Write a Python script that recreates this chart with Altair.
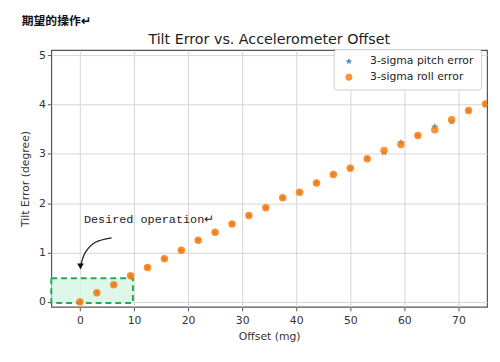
import altair as alt
import pandas as pd

offset = [0, 3.125, 6.25, 9.375, 12.5, 15.625, 18.75, 21.875, 25, 28.125, 31.25, 34.375,
          37.5, 40.625, 43.75, 46.875, 50, 53.125, 56.25, 59.375, 62.5, 65.625, 68.75, 71.875, 75]
roll = [0.0, 0.185, 0.35, 0.53, 0.70, 0.875, 1.05, 1.25, 1.41, 1.58, 1.75, 1.91, 2.11, 2.22,
        2.41, 2.58, 2.71, 2.90, 3.07, 3.19, 3.37, 3.49, 3.69, 3.88, 4.01]
pitch = [0.0, 0.185, 0.35, 0.53, 0.70, 0.875, 1.05, 1.25, 1.41, 1.58, 1.75, 1.91, 2.11, 2.22,
         2.41, 2.58, 2.71, 2.90, 3.03, 3.23, 3.37, 3.55, 3.65, 3.88, 4.01]
series_names = ["3-sigma pitch error", "3-sigma roll error"]
series_colors = ["#1f77b4", "#ff7f0e"]
STAR = ("M0,-1L0.235,-0.324L0.951,-0.309L0.38,0.124L0.588,0.809L0,0.4"
        "L-0.588,0.809L-0.38,0.124L-0.951,-0.309L-0.235,-0.324Z")
series_shapes = [STAR, "circle"]

x_ticks = [0, 10, 20, 30, 40, 50, 60, 70]
y_ticks = [0, 1, 2, 3, 4, 5]
x_domain = [-5.3, 75.3]
y_domain = [-0.1, 5.1]

box_x = [-5.3, 9.8]
box_y = [-0.02, 0.48]
arrow_x = [5.85, 2.85, 1.03, 0.24, 0.1]
arrow_y = [1.30, 1.21, 1.01, 0.78, 0.68]
arrow_tip = [0.1, 0.72]
note_text = "Desired operation\u21b5"
note_pos = [0.73, 1.67]
header_text = "期望的操作\u21b5"
title_text = "Tilt Error vs. Accelerometer Offset"

rows = []
for s, vals in zip(series_names, [pitch, roll]):
    for o, v in zip(offset, vals):
        rows.append({"offset": o, "err": v, "series": s})
df = pd.DataFrame(rows)

xs = alt.Scale(domain=x_domain, nice=False, zero=False)
ys = alt.Scale(domain=y_domain, nice=False, zero=False)
xax = alt.Axis(values=x_ticks, title="Offset (mg)", grid=True)
yax = alt.Axis(values=y_ticks, title="Tilt Error (degree)", grid=True)

box = alt.Chart(pd.DataFrame({"x": [box_x[0]], "x2": [box_x[1]], "y": [box_y[0]], "y2": [box_y[1]]})).mark_rect(
    fill="#d4f5e2", fillOpacity=0.8, stroke="#22aa55", strokeWidth=2, strokeDash=[6, 4]
).encode(
    x=alt.X("x:Q", scale=xs, axis=xax),
    x2="x2:Q",
    y=alt.Y("y:Q", scale=ys, axis=yax),
    y2="y2:Q",
)

pts = alt.Chart(df).mark_point(filled=True, size=58, opacity=0.85, clip=True).encode(
    x=alt.X("offset:Q", scale=xs, axis=xax),
    y=alt.Y("err:Q", scale=ys, axis=yax),
    color=alt.Color("series:N", scale=alt.Scale(domain=series_names, range=series_colors),
                    legend=alt.Legend(title=None, orient="none", legendX=287, legendY=-1)),
    shape=alt.Shape("series:N", scale=alt.Scale(domain=series_names, range=series_shapes)),
)

arrow = alt.Chart(pd.DataFrame({"x": arrow_x, "y": arrow_y, "i": list(range(len(arrow_x)))})).mark_line(
    color="#222", strokeWidth=1.3, interpolate="cardinal"
).encode(x=alt.X("x:Q", scale=xs), y=alt.Y("y:Q", scale=ys), order="i:Q")

tip = alt.Chart(pd.DataFrame({"x": [arrow_tip[0]], "y": [arrow_tip[1]]})).mark_point(
    shape="triangle-down", filled=True, color="#111", size=45, opacity=1
).encode(x=alt.X("x:Q", scale=xs), y=alt.Y("y:Q", scale=ys))

note = alt.Chart(pd.DataFrame({"x": [note_pos[0]], "y": [note_pos[1]], "t": [note_text]})).mark_text(
    align="left", baseline="middle", font="Liberation Mono", fontSize=12, color="#222"
).encode(x=alt.X("x:Q", scale=xs), y=alt.Y("y:Q", scale=ys), text="t:N")

header = alt.Chart(pd.DataFrame({"t": [header_text]})).mark_text(
    align="left", baseline="middle", font="Noto Sans CJK SC", fontSize=12, fontWeight="bold", color="#111"
).encode(x=alt.value(-30), y=alt.value(-30), text="t:N")

title = alt.Chart(pd.DataFrame({"t": [title_text]})).mark_text(
    align="center", baseline="middle", font="DejaVu Sans", fontSize=14.5, color="#222"
).encode(x=alt.value(221.5), y=alt.value(-10), text="t:N")

chart = alt.layer(box, arrow, tip, pts, note, header, title).properties(
    width=443, height=261,
    autosize=alt.AutoSizeParams(type="none"),
    padding={"left": 44, "top": 40, "right": 5, "bottom": 45},
).configure_view(stroke="#555", strokeWidth=1.2).configure_axis(
    domain=False, gridColor="#d4d4d4", gridWidth=1, tickColor="#555", tickSize=4,
    labelFont="DejaVu Sans", labelFontSize=11, labelColor="#333", labelPadding=2,
    titleFont="DejaVu Sans", titleFontSize=11, titleFontWeight="normal", titleColor="#333",
).configure_axisY(titlePadding=8).configure_axisX(titlePadding=5, labelPadding=4).configure_legend(
    padding=7, strokeColor="#ccc", fillColor="white", cornerRadius=3, labelFont="DejaVu Sans",
    labelFontSize=11, labelColor="#222", symbolSize=50, rowPadding=4,
    symbolOffset=3, labelOffset=16,
)

chart.save("out.html", embed_options={"renderer": "svg", "actions": False})
